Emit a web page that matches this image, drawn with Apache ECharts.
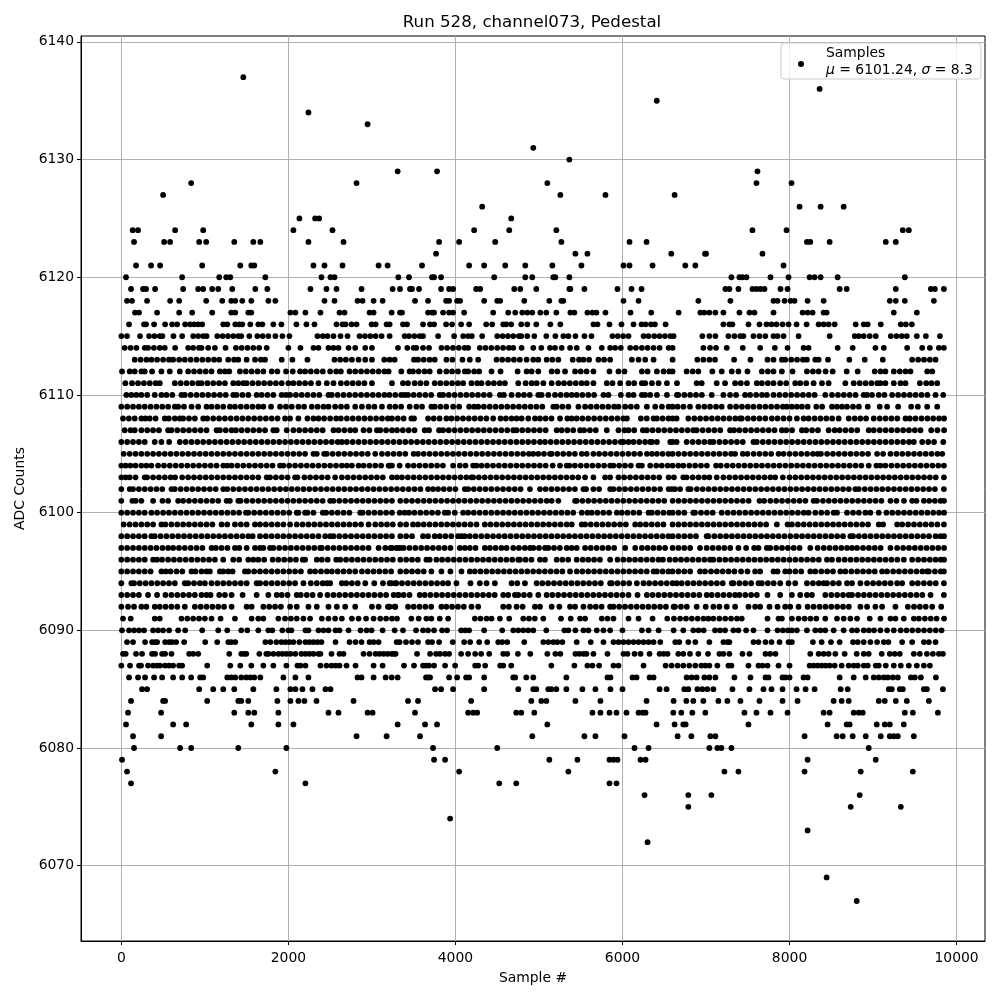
<!DOCTYPE html>
<html><head><meta charset="utf-8"><style>html,body{margin:0;background:#fff}#c{width:1000px;height:1000px}</style>
<script src="https://cdn.jsdelivr.net/npm/echarts@6/dist/echarts.min.js"></script></head><body><div id="c"></div>
<script>
const xTicks=[0,2000,4000,6000,8000,10000];
const yTicks=[6070,6080,6090,6100,6110,6120,6130,6140];
const l6137=[1460];const l6136=[8360];const l6135=[6410];const l6134=[2240];const l6133=[2948];const l6131=[4932];const l6130=[5364];
const l6129=[3308,3780,7616];const l6128=[836,2816,5100,7604,8024];const l6127=[500,5256,5796,6624];const l6126=[4320,8120,8372,8648];const l6125=[2132,2320,2368,4668];
const l6124=[136,200,644,980,2060,2528,4224,4644,5208,7556,7964,9356,9428];
const l6123=[152,512,584,932,1016,1352,1580,1664,2240,2660,3804,4044,4476,5268,6084,6288,8208,8248,8480,9152,9272];
const l6122=[3768,5436,5580,6584,6988,7000,7676];
const l6121=[176,356,464,968,1424,1556,1592,2300,2432,2648,3080,3188,3600,4164,4344,4596,4836,5160,5508,6012,6084,6360,6752,6872,7928];
const l6120=[56,728,1172,1256,1304,1724,2396,2504,2552,3316,3444,3720,3744,3828,4464,4836,4920,5172,5196,5364,7304,7400,7436,7484,7772,7988,8240,8300,8372,8576,9380];
const l6119=[116,260,296,404,740,920,980,1088,1160,1328,1604,1748,2264,2456,2576,2876,3248,3336,3456,3480,3564,3828,3924,3972,4248,4296,4704,4776,4968,5364,5376,5544,5940,6108,6228,7232,7280,7388,7556,7604,7652,7700,7892,7976,8600,8684,9272,9692,9740,9848];
const l6118=[68,128,308,584,692,1016,1208,1316,1364,1448,1556,1760,1844,2432,2552,2828,2888,3020,3128,3516,3672,3888,3924,4020,4056,4344,4500,4536,4824,5124,5268,5292,6012,6192,6908,7292,7808,7856,7940,8012,8060,8216,8408,9200,9272,9380,9728];
const l6117=[164,212,428,692,848,1088,1316,1364,1520,1556,2024,2084,2204,2384,2612,2672,2972,3020,3236,3336,3360,3672,3720,3744,3852,3924,3972,4104,4452,4632,4716,4800,4860,4920,5016,5088,5208,5376,5424,5580,5640,5688,5796,6096,6344,6672,6932,6980,7040,7112,7208,7400,7520,7580,7808,8156,8216,8276,8408,8444,9248,9524];
const l6116=[92,272,296,392,524,608,668,764,824,872,920,968,1220,1268,1364,1412,1448,1544,1640,1688,1820,1916,2096,2216,2312,2576,2648,2684,2756,2816,2996,3044,3176,3212,3372,3420,3612,3696,3744,3888,3960,4068,4164,4368,4440,4572,4608,4668,4788,4860,4968,5136,5256,5652,5700,5844,5988,6132,6228,6276,6340,6388,6516,7208,7280,7316,7508,7640,7724,7784,7844,7916,7988,8084,8204,8348,8408,8468,8540,8792,8888,8936,9092,9332,9392,9464];
const l6115=[0,68,224,332,396,460,492,624,728,860,920,980,1020,1148,1212,1276,1340,1400,1436,1532,1628,1692,1760,1844,1928,2012,2348,2412,2468,2540,2624,2708,2852,2916,2980,3044,3116,3212,3392,3444,3508,3572,3612,3792,3984,4092,4150,4196,4320,4500,4564,4628,4692,4760,4788,4860,4944,5088,5196,5292,5352,5436,5544,5628,5880,5944,6008,6072,6252,6312,6380,6444,6508,6572,6612,6956,7040,7112,7268,7340,7410,7448,7568,7640,7710,7808,7856,7928,8108,8480,8780,8828,8888,8960,9032,9212,9280,9344,9404,9524,9632,9800];
const l6114=[40,110,180,280,320,390,460,520,644,800,860,930,960,1040,1120,1248,1372,1440,1510,1580,1650,1740,2000,2144,2300,2360,2480,2540,2600,2720,2800,2920,3000,3312,3424,3500,3532,3612,3684,3832,3900,3970,4040,4110,4152,4292,4360,4430,4500,4570,4640,4692,4792,4932,5028,5132,5192,5272,5372,5452,5592,5752,5852,5912,5980,6092,6160,6232,6300,6372,6444,6552,6600,6968,7048,7120,7248,7440,7648,7824,7976,8168,8228,8576,8756,9028,9128,9408,9588,9680,9788,9848];
const l6113=[160,230,300,360,428,500,570,620,692,760,830,900,970,1040,1110,1172,1280,1350,1400,1500,1600,1670,1720,1920,2048,2228,2552,2620,2688,2760,2840,2920,3000,3148,3212,3272,3504,3552,3620,3690,3752,3892,3964,4084,4172,4272,4492,4560,4630,4700,4770,4852,4932,4992,5092,5160,5232,5404,5480,5532,5600,5712,5780,5852,6112,6192,6272,6372,6600,6896,6968,7040,7108,7336,7532,7736,7808,7908,7948,8020,8090,8160,8208,8308,8348,8460,8716,8900,9116,9468,9540,9610,9680,9748];
const l6112=[8,100,160,240,280,368,480,580,700,800,870,940,1010,1080,1180,1240,1292,1420,1490,1560,1630,1700,1800,1868,1972,2052,2140,2200,2268,2340,2412,2500,2572,2628,2732,2800,2870,2940,3010,3080,3150,3200,3352,3452,3492,3560,3630,3692,3812,3892,3960,4030,4112,4152,4224,4284,4432,4540,4744,4852,4912,4992,5152,5220,5312,5432,5500,5570,5652,5844,5952,6024,6232,6300,6412,6492,6560,6600,6768,6840,6908,7076,7188,7308,7388,7496,7668,7740,7808,7908,8036,8208,8280,8348,8432,8516,8684,8816,9020,9090,9148,9248,9320,9388,9448,9648,9708];
const l6111=[48,128,200,270,340,410,460,640,710,780,850,920,960,1030,1100,1170,1240,1340,1400,1460,1500,1570,1640,1710,1780,1850,1920,2000,2060,2130,2200,2270,2360,2460,2540,2628,2700,2770,2840,2910,3000,3240,3372,3432,3512,3580,3652,3752,3820,3890,3960,4030,4092,4192,4260,4312,4392,4460,4530,4592,4752,4840,4912,4972,5052,5152,5232,5300,5370,5440,5510,5572,5652,5812,5880,5972,6072,6140,6232,6272,6352,6432,6532,6652,6888,6948,7128,7228,7348,7416,7490,7608,7668,7740,7808,7888,7960,8068,8128,8200,8288,8388,8468,8668,8768,8840,8910,8980,9050,9088,9148,9248,9328,9388,9560,9636,9700,9768];
const l6110=[60,120,180,240,310,400,480,540,610,720,760,830,900,970,1040,1110,1180,1250,1340,1380,1450,1520,1620,1680,1750,1820,1920,1972,2020,2090,2160,2230,2300,2370,2480,2520,2590,2660,2730,2800,2870,2940,3010,3080,3150,3210,3280,3350,3392,3432,3500,3570,3640,3710,3812,3852,3920,3990,4060,4130,4200,4270,4340,4410,4532,4580,4672,4752,4820,4890,4992,5032,5112,5192,5260,5330,5392,5452,5520,5590,5660,5772,5832,5980,6072,6132,6232,6272,6332,6412,6532,6652,6668,6740,6810,6880,6950,7068,7208,7288,7360,7468,7528,7600,7670,7728,7808,7880,7950,8020,8090,8160,8230,8300,8428,8508,8580,8650,8720,8790,8888,8928,8988,9068,9136,9228,9300,9370,9440,9510,9580,9650,9748,9840];
const l6109=[0,70,140,210,280,350,420,490,560,640,680,750,840,920,1020,1080,1150,1220,1300,1360,1430,1500,1570,1640,1700,1792,1900,1970,2040,2120,2188,2280,2350,2420,2480,2560,2630,2700,2800,2880,2960,3030,3120,3212,3280,3350,3452,3532,3600,3712,3752,3820,3890,3972,4044,4164,4224,4272,4340,4410,4480,4550,4620,4690,4760,4830,4900,4970,5040,5172,5212,5280,5352,5472,5552,5620,5690,5760,5830,5900,5952,6032,6100,6172,6292,6392,6472,6552,6600,6660,6730,6808,6908,6980,7048,7120,7188,7288,7360,7430,7500,7568,7640,7710,7780,7850,7920,7968,8028,8088,8148,8216,8320,8390,8508,8568,8628,8688,8760,8830,8936,9080,9168,9300,9456,9536,9648,9768];
const l6108=[20,90,160,240,288,340,410,520,568,640,700,740,810,880,980,1028,1100,1170,1240,1310,1380,1450,1520,1590,1660,1730,1800,1870,1960,2020,2120,2228,2300,2360,2428,2500,2572,2628,2700,2770,2840,2910,2980,3050,3120,3190,3240,3310,3380,3472,3504,3672,3740,3810,3892,3952,4020,4090,4160,4230,4300,4370,4452,4540,4604,4672,4732,4792,4872,4952,5012,5080,5150,5252,5340,5392,5452,5520,5590,5660,5730,5800,5870,5940,6010,6052,6220,6290,6372,6412,6480,6550,6600,6648,6788,6860,6930,7000,7070,7140,7210,7280,7350,7408,7428,7500,7570,7640,7710,7788,7856,7928,8000,8088,8168,8228,8300,8370,8440,8510,8588,8708,8780,8848,8916,9008,9080,9150,9220,9290,9388,9440,9508,9580,9650,9720,9790,9850];
const l6107=[40,110,160,240,310,380,450,560,600,670,740,810,880,950,1020,1140,1180,1250,1320,1372,1440,1510,1580,1650,1720,1820,1860,1980,2060,2130,2200,2270,2340,2410,2540,2600,2670,2740,2800,2900,2970,3060,3100,3170,3240,3300,3370,3440,3510,3632,3684,3804,3852,3920,3990,4060,4130,4200,4270,4340,4410,4480,4550,4620,4692,4732,4800,4870,4940,5010,5080,5212,5272,5340,5410,5492,5540,5610,5680,5812,5952,6024,6072,6140,6244,6292,6360,6430,6500,6570,6640,6710,6780,6848,6888,6960,7030,7100,7170,7288,7336,7400,7470,7540,7610,7680,7750,7820,7908,7960,8030,8148,8200,8270,8340,8468,8540,8600,8670,8740,8810,8948,9008,9080,9150,9220,9290,9360,9430,9500,9568,9696,9770,9850];
const l6106=[0,70,140,210,280,400,480,572,700,770,840,910,980,1050,1120,1190,1260,1330,1400,1470,1540,1610,1680,1750,1820,1890,1960,2030,2100,2170,2240,2310,2380,2450,2520,2590,2640,2700,2770,2840,2910,2980,3050,3120,3190,3260,3330,3400,3470,3540,3610,3680,3750,3820,3890,3960,4030,4100,4170,4240,4310,4380,4450,4520,4590,4660,4730,4800,4870,4940,5012,5072,5140,5210,5280,5350,5420,5490,5560,5630,5700,5770,5840,5910,5980,6012,6072,6132,6200,6270,6332,6352,6412,6572,6600,6648,6768,6840,6910,6980,7048,7088,7160,7230,7300,7370,7440,7568,7608,7680,7750,7820,7890,7960,8030,8100,8170,8240,8310,8380,8450,8520,8590,8660,8730,8800,8870,8940,9010,9080,9150,9220,9290,9360,9430,9488,9588,9660,9730,9840];
const l6105=[28,100,170,240,310,380,450,520,590,660,730,800,870,940,1010,1080,1150,1220,1290,1360,1430,1500,1570,1640,1710,1780,1850,1920,1990,2060,2130,2200,2300,2340,2428,2460,2530,2600,2670,2740,2810,2880,2950,3040,3120,3190,3260,3330,3400,3500,3552,3620,3690,3760,3830,3900,3970,4040,4110,4180,4250,4320,4390,4460,4530,4600,4670,4740,4810,4880,4932,4992,5060,5132,5152,5220,5290,5360,5430,5512,5572,5652,5720,5790,5860,5930,6000,6070,6140,6210,6292,6352,6412,6480,6550,6600,6670,6740,6810,6880,6950,7020,7090,7160,7230,7300,7348,7440,7496,7570,7640,7710,7780,7868,7928,8000,8070,8140,8210,8280,8336,8376,8450,8520,8590,8660,8730,8800,8870,8940,9048,9120,9208,9280,9350,9420,9490,9560,9630,9700,9770,9828];
const l6104=[0,52,108,170,240,300,360,440,510,580,650,720,790,860,930,1000,1070,1140,1220,1268,1320,1390,1460,1530,1600,1670,1740,1810,1900,1940,2010,2080,2150,2220,2290,2360,2430,2500,2570,2640,2700,2760,2840,2900,2970,3040,3110,3200,3240,3332,3212,3432,3500,3570,3640,3710,3780,3850,3972,4052,4120,4212,4252,4312,4380,4450,4520,4590,4660,4730,4800,4870,4940,5010,5080,5164,5252,5332,5364,5430,5500,5570,5640,5710,5780,5852,5892,5960,6030,6100,6192,6232,6332,6404,6470,6540,6600,6668,6728,6800,6870,6940,7010,7120,7176,7250,7320,7390,7460,7530,7600,7670,7740,7810,7880,7950,8020,8090,8160,8230,8300,8370,8440,8510,8580,8650,8720,8790,8860,8948,9040,9088,9148,9220,9290,9360,9430,9500,9570,9640,9710,9780,9848];
const l6103=[0,52,100,170,280,308,380,450,520,590,644,728,800,870,940,1010,1080,1150,1220,1290,1360,1430,1500,1570,1640,1740,1780,1850,1920,1990,2080,2108,2192,2260,2330,2400,2470,2560,2640,2710,2780,2850,2920,2990,3060,3130,3240,3300,3360,3430,3500,3570,3640,3710,3780,3850,3920,3990,4060,4130,4192,4212,4280,4350,4420,4490,4560,4630,4700,4770,4840,4910,4980,5050,5120,5190,5260,5330,5400,5470,5552,5652,5792,5852,5952,6020,6090,6160,6230,6300,6370,6440,6552,6616,6728,6768,6840,6910,6980,7040,7128,7208,7280,7350,7420,7490,7560,7630,7700,7770,7828,7920,8000,8070,8140,8210,8280,8350,8420,8490,8560,8630,8700,8770,8840,8910,8980,9050,9120,9190,9260,9330,9400,9470,9540,9610,9680,9750,9848];
const l6102=[0,100,140,210,280,350,420,490,600,640,710,780,850,920,990,1060,1130,1220,1268,1340,1410,1480,1550,1620,1690,1760,1830,1900,1970,2040,2110,2180,2250,2320,2390,2460,2530,2600,2670,2740,2810,2880,2950,3020,3090,3160,3230,3300,3370,3440,3510,3580,3672,3732,3792,3860,3930,4000,4112,4152,4220,4290,4360,4430,4500,4570,4640,4710,4780,4892,5012,5080,5150,5220,5290,5360,5430,5532,5564,5652,5720,5852,5892,5960,6030,6100,6170,6240,6310,6380,6450,6552,6592,6690,6628,6788,6816,6890,6960,7030,7100,7170,7240,7310,7380,7450,7520,7590,7660,7730,7800,7870,7940,8010,8080,8150,8220,8290,8360,8430,8500,8570,8640,8710,8788,8828,8900,8970,9040,9110,9180,9250,9320,9390,9460,9530,9600,9670,9740,9848];
const l6101=[0,132,172,240,380,492,560,680,740,810,880,950,1020,1090,1160,1260,1300,1400,1428,1500,1570,1640,1710,1780,1850,1920,1990,2060,2130,2200,2270,2340,2410,2500,2540,2610,2680,2750,2820,2890,2960,3030,3100,3170,3240,3340,3410,3480,3550,3620,3690,3760,3830,3900,3970,4040,4110,4180,4250,4320,4390,4460,4530,4600,4670,4740,4810,4880,4950,5020,5092,5152,5232,5432,5452,5520,5590,5660,5730,5800,5870,5940,6010,6080,6150,6220,6290,6360,6430,6500,6600,6670,6740,6810,6880,6950,7020,7090,7160,7230,7300,7370,7440,7510,7640,7696,7770,7840,7910,7980,8050,8120,8190,8288,8328,8400,8470,8540,8610,8680,8750,8820,8890,8960,9030,9100,9208,9280,9370,9468,9520,9608,9672,9740,9808,9850];
const l6100=[0,70,140,210,280,360,428,500,570,640,710,780,850,920,990,1060,1130,1200,1270,1340,1410,1492,1520,1590,1660,1730,1800,1870,1940,2010,2100,2120,2200,2228,2300,2412,2452,2520,2590,2660,2730,2860,2888,2960,3030,3100,3170,3240,3332,3392,3444,3510,3580,3650,3720,3790,3872,3912,3992,4092,4152,4220,4290,4360,4430,4500,4570,4640,4710,4780,4850,4920,4990,5060,5130,5200,5270,5340,5410,5512,5580,5632,5700,5770,5840,5932,5992,6060,6130,6200,6312,6352,6420,6490,6560,6600,6670,6740,6848,6868,6940,7010,7080,7188,7260,7330,7400,7470,7540,7610,7680,7750,7820,7890,7960,8030,8100,8170,8228,8308,8380,8450,8528,8568,8688,8760,8830,8908,8968,9068,9160,9230,9300,9370,9440,9510,9580,9650,9720,9790,9850];
const l6099=[28,100,170,240,310,380,480,528,600,670,740,810,880,950,1020,1090,1200,1268,1360,1430,1500,1600,1660,1730,1800,1870,1940,2020,2100,2170,2240,2310,2380,2450,2520,2590,2660,2730,2800,2870,2960,3040,3110,3180,3250,3340,3410,3492,3552,3620,3690,3760,3830,3900,3970,4040,4110,4180,4252,4352,4420,4490,4560,4630,4700,4770,4840,4910,4980,5050,5120,5190,5260,5332,5392,5512,5552,5620,5690,5760,5830,5900,5970,6040,6152,6212,6280,6350,6420,6490,6600,6670,6740,6810,6880,6950,7020,7090,7160,7230,7300,7370,7440,7510,7580,7650,7720,7848,7976,8028,8100,8170,8240,8310,8380,8450,8520,8590,8660,8730,8800,8870,8940,9068,9120,9288,9348,9420,9490,9560,9630,9700,9770,9848];
const l6098=[0,70,140,210,280,360,400,470,540,610,680,750,820,890,960,1030,1100,1170,1240,1310,1380,1450,1520,1572,1660,1730,1800,1870,1940,2010,2080,2150,2220,2290,2360,2440,2500,2540,2610,2680,2750,2820,2890,2960,3030,3100,3170,3240,3340,3410,3480,3612,3672,3752,3812,3880,3950,4032,4072,4112,4172,4240,4310,4380,4450,4520,4590,4660,4730,4800,4870,4940,5010,5080,5150,5220,5290,5360,5430,5500,5570,5640,5710,5780,5850,5920,5990,6060,6130,6200,6270,6340,6410,6480,6550,6600,6670,6740,6810,6880,7008,7028,7100,7170,7240,7310,7380,7450,7520,7590,7660,7730,7800,7870,7940,8010,8080,8150,8220,8290,8360,8430,8500,8570,8640,8728,8760,8830,8900,8970,9040,9110,9180,9250,9320,9390,9460,9530,9600,9670,9748,9808,9850];
const l6097=[0,70,140,210,280,350,420,492,560,620,690,760,830,900,970,1080,1132,1200,1270,1360,1412,1500,1600,1660,1700,1780,1820,1890,1960,2030,2100,2170,2240,2310,2380,2400,2470,2540,2610,2680,2750,2820,2890,2960,3080,3160,3240,3340,3224,3292,3312,3380,3450,3520,3590,3660,3730,3800,3870,3940,4052,4112,4172,4240,4352,4412,4480,4550,4612,4692,4760,4830,4892,4932,5000,5072,5112,5180,5250,5332,5392,5452,5552,5620,5690,5760,5830,5900,6032,6152,6232,6300,6370,6440,6510,6600,6670,6740,6810,6928,7008,7080,7150,7220,7290,7388,7480,7576,7628,7728,7768,7840,7910,7980,8050,8120,8248,8336,8410,8480,8550,8620,8688,8748,8808,8880,8950,9020,9090,9208,9288,9360,9430,9500,9570,9640,9710,9780,9850];
const l6096=[0,70,140,210,280,380,428,488,560,630,700,770,840,910,980,1050,1120,1220,1340,1410,1520,1580,1640,1710,1812,1880,1950,2020,2090,2172,2200,2340,2400,2470,2572,2620,2690,2760,2830,2900,2970,3040,3110,3180,3250,3340,3410,3480,3550,3652,3692,3772,3840,3910,3980,4050,4120,4190,4260,4330,4400,4470,4540,4610,4680,4752,4772,4840,4910,5012,5072,5212,5280,5350,5452,5524,5590,5660,5730,5852,5940,6010,6080,6150,6220,6290,6360,6432,6484,6564,6632,6700,6770,6840,6910,6980,7048,7088,7160,7230,7300,7370,7440,7510,7580,7650,7720,7790,7860,7930,8000,8070,8140,8210,8280,8350,8448,8508,8588,8660,8730,8800,8870,8940,9010,9080,9150,9220,9290,9368,9468,9540,9610,9680,9748,9810,9850];
const l6095=[0,70,140,210,280,350,480,532,588,660,730,840,888,960,1020,1060,1180,1220,1280,1332,1480,1520,1590,1660,1730,1800,1870,1940,2010,2080,2150,2260,2320,2390,2460,2520,2590,2660,2730,2800,2880,2950,3020,3090,3160,3230,3340,3410,3480,3550,3620,3712,3832,3940,4072,4172,4232,4300,4370,4440,4510,4580,4650,4720,4790,4860,4930,5000,5070,5140,5210,5280,5372,5452,5520,5590,5660,5730,5800,5870,5940,6010,6080,6150,6220,6290,6372,6412,6480,6550,6600,6670,6740,6810,6928,6988,7060,7130,7200,7270,7340,7420,7496,7588,7648,7808,7856,7948,8000,8070,8140,8248,8308,8380,8450,8520,8608,8668,8740,8810,8880,8950,9020,9108,9168,9240,9310,9380,9450,9520,9590,9648,9668,9740,9810,9848];
const l6094=[0,120,152,220,290,360,430,500,570,640,760,800,870,940,1000,1080,1150,1220,1290,1360,1430,1500,1620,1660,1730,1800,1870,1940,2010,2080,2180,2268,2340,2410,2460,2500,2640,2692,2760,2830,2920,3028,3132,3212,3280,3232,3292,3360,3430,3500,3570,3640,3710,3780,3850,3912,4012,4180,4292,4372,4472,4672,4740,4832,4972,5040,5110,5180,5250,5320,5390,5460,5530,5600,5670,5740,5852,5872,5940,6010,6080,6172,6252,6320,6390,6460,6530,6600,6648,6708,6780,6850,6920,6990,7060,7130,7200,7308,7328,7400,7470,7540,7628,7668,7740,7810,7888,7988,8068,8208,8280,8350,8408,8448,8520,8590,8688,8748,8848,8928,9000,9070,9140,9210,9288,9348,9468,9536,9608,9680,9750,9848];
const l6093=[0,70,140,210,320,428,528,600,670,740,810,880,960,1020,1068,1172,1240,1320,1452,1620,1760,1860,1920,1990,2100,2148,2220,2290,2380,2468,2540,2610,2680,2750,2820,2890,2960,3030,3100,3170,3260,3320,3312,3380,3450,3572,3632,3700,3770,3840,3910,3980,4050,4120,4190,4260,4330,4400,4470,4572,4632,4712,4752,4820,4890,4992,5092,5160,5230,5300,5370,5440,5510,5580,5650,5720,5790,5860,5930,6000,6072,6180,6292,6360,6430,6500,6570,6640,6710,6780,6850,6920,7008,7068,7140,7210,7280,7348,7400,7470,7540,7608,7736,7888,8028,8128,8208,8268,8428,8500,8570,8640,8708,8748,8820,8890,8960,9030,9100,9170,9240,9310,9380,9450,9520,9590,9688,9848];
const l6092=[0,80,152,240,300,400,460,530,600,670,760,880,950,1020,1090,1160,1230,1320,1500,1560,1700,1770,1840,1910,2020,2100,2240,2340,2480,2580,2680,2800,3000,3080,3212,3280,3192,3272,3432,3500,3570,3640,3710,3832,3892,3960,4030,4100,4192,4272,4572,4640,4732,4804,4952,5012,5152,5244,5372,5432,5532,5612,5680,5750,5852,5892,5960,6030,6100,6170,6240,6310,6380,6450,6520,6612,6628,6700,6770,6888,6996,7088,7160,7248,7348,7508,7588,7648,7760,7856,7948,8008,8108,8216,8288,8360,8430,8500,8570,8640,8710,8848,8928,9028,9108,9268,9416,9490,9560,9630,9708,9816];
const l6091=[20,112,400,460,720,790,860,930,1000,1080,1188,1360,1560,1640,1700,1880,1960,2030,2100,2180,2260,2400,2480,2560,2640,2760,2840,2930,3020,3100,3170,3240,3300,3472,3560,3652,3712,3812,3912,4232,4300,4372,4432,4532,4644,4812,4880,4950,5052,5264,5380,5492,5552,5752,5820,5892,6072,6192,6360,6536,6616,6690,6760,6830,6900,6970,7028,7088,7160,7230,7300,7370,7428,7736,7868,7908,8028,8108,8180,8250,8320,8428,8568,8648,8728,8808,8960,9088,9208,9268,9368,9488,9548,9620,9690,9760,9850];
const l6090=[8,92,152,212,272,380,440,500,572,680,764,968,1160,1268,1436,1508,1640,1760,1808,1928,2000,2036,2204,2240,2360,2420,2480,2564,2612,2720,2864,2936,2996,3128,3272,3372,3528,3612,3672,3744,3840,3900,4068,4116,4164,4344,4560,4692,4752,4812,4872,4932,5088,5304,5352,5436,5532,5592,5692,5772,5852,6000,6232,6312,6432,6612,6728,6848,6910,6972,7108,7168,7228,7328,7388,7480,7568,7736,7856,7920,7980,8028,8088,8208,8308,8370,8428,8528,8648,8748,8808,8888,8950,9012,9088,9168,9248,9330,9400,9470,9540,9610,9680,9750,9820];
const l6089=[68,140,284,368,404,428,524,572,608,656,752,1004,1148,1280,1316,1364,1724,1784,1856,1916,1964,2012,2060,2132,2204,2252,2300,2348,2396,2564,2732,2804,2876,2972,3020,3080,3296,3332,3408,3480,3552,3672,3720,3804,3968,4104,4176,4284,4380,4512,4560,4620,4824,5052,5112,5172,5220,5280,5452,5620,5772,5892,5952,6012,6072,6132,6192,6252,6312,6372,6452,6632,6680,6788,6872,7040,7208,7256,7280,7568,7628,7712,7784,7880,7988,8028,8280,8384,8496,8600,8760,8816,8888,8968,9048,9128,9184,9348,9468,9608,9668,9748];
const l6088=[20,52,176,248,368,404,488,524,600,812,860,920,1292,1436,1472,1496,1652,1736,1760,1820,1880,1928,1976,2024,2084,2156,2204,2252,2300,2360,2384,2516,2612,2660,2900,2972,3044,3092,3140,3188,3236,3284,3264,3540,3696,3768,3816,3876,3924,4068,4152,4236,4308,4404,4572,4620,4748,4896,5100,5196,5256,5436,5484,5532,5568,5652,5820,6012,6060,6144,6216,6324,6444,6492,6540,6668,6728,6808,6908,7024,7160,7208,7280,7436,7520,7712,7768,7832,8248,8348,8408,8468,8548,8660,8804,8888,8948,9104,9200,9260,9320,9488,9560,9644,9716,9788,9836];
const l6087=[0,104,212,236,320,380,428,464,524,572,620,692,728,1028,1304,1424,1556,1700,1820,1976,2108,2144,2204,2384,2456,2516,2564,2612,2696,2804,3020,3128,3384,3504,3612,3648,3684,3744,3876,3996,4236,4272,4356,4536,4572,4668,5148,5424,5580,5640,5720,5892,5952,6252,6516,6588,6660,6728,6800,6872,6944,6992,7040,7136,7268,7304,7508,7628,7676,7736,7868,8000,8240,8288,8336,8384,8432,8480,8540,8624,8708,8768,8816,8888,8936,9032,9068,9152,9248,9332,9428,9524,9608,9680];
const l6086=[92,200,284,392,488,620,728,836,944,980,1268,1316,1364,1436,1496,1544,1592,1664,1940,2084,2240,2828,2876,3020,3164,3236,3308,3648,3672,3696,3924,4020,4128,4164,4344,4692,4716,4848,4932,5328,5820,5856,6120,6168,6324,6372,6768,6828,6888,6980,7040,7112,7340,7532,7712,7748,7916,7952,8000,8168,8216,8600,8768,8912,9008,9068,9128,9176,9236,9296,9452,9500,9572,9752];
const l6085=[248,308,932,1100,1220,1352,1580,1856,2024,2084,2168,2288,2444,2504,3756,3828,3972,4344,4752,4932,4968,5112,5148,5208,5328,5520,5676,5856,6000,6444,6528,6740,6788,6896,6956,7016,7088,7316,7520,7688,7784,7916,8084,8192,8300,8612,8696,9188,9224,9320,9356,9608,9644,9836];
const l6084=[116,500,524,1028,1400,1436,1520,1868,2024,2120,2192,2336,2780,3432,3552,4188,4908,5028,5088,5436,5736,6288,6612,6764,6848,6968,7148,7256,7412,7640,7916,8096,8528,8624,8708,9068,9140,9272,9404,9668];
const l6083=[80,476,1352,1520,1592,1880,2480,2600,2948,3008,3516,4152,4212,4260,4728,4788,4944,5640,5736,5844,5928,6048,6192,6240,6276,6608,6704,6836,6992,7460,7604,7772,7976,8408,8480,8768,8828,8876,9380,9476,9776];
const l6082=[56,620,776,1556,1880,2060,3308,3636,3780,5100,6408,6624,6728,6756,7508,8456,8684,8720,9044,9140,9200,9368];
const l6081=[140,476,2816,3176,3576,4920,5544,5676,6024,6660,6824,7052,7112,8180,8564,8636,8756,8912,9092,9200,9248,9296,9488];
const l6080=[152,704,836,1400,1976,3732,4500,6144,6312,7040,7136,7184,7304,8948];
const l6079=[8,3744,3876,5124,5460,5844,5892,5940,6216,6276,8216,9032];
const l6078=[68,1844,4044,5352,7220,7388,8180,8852,9476];
const l6077=[116,2204,4524,4728,5844,5928];
const l6076=[6264,6788,7064,8840];const l6075=[6788,8732,9332];const l6074=[3936];const l6073=[8216];const l6072=[6300];const l6069=[8444];const l6067=[8804];
const rows=[[6137,l6137],[6136,l6136],[6135,l6135],[6134,l6134],[6133,l6133],[6131,l6131],[6130,l6130],[6129,l6129],[6128,l6128],[6127,l6127],[6126,l6126],[6125,l6125],[6124,l6124],[6123,l6123],[6122,l6122],[6121,l6121],[6120,l6120],[6119,l6119],[6118,l6118],[6117,l6117],[6116,l6116],[6115,l6115],[6114,l6114],[6113,l6113],[6112,l6112],[6111,l6111],[6110,l6110],[6109,l6109],[6108,l6108],[6107,l6107],[6106,l6106],[6105,l6105],[6104,l6104],[6103,l6103],[6102,l6102],[6101,l6101],[6100,l6100],[6099,l6099],[6098,l6098],[6097,l6097],[6096,l6096],[6095,l6095],[6094,l6094],[6093,l6093],[6092,l6092],[6091,l6091],[6090,l6090],[6089,l6089],[6088,l6088],[6087,l6087],[6086,l6086],[6085,l6085],[6084,l6084],[6083,l6083],[6082,l6082],[6081,l6081],[6080,l6080],[6079,l6079],[6078,l6078],[6077,l6077],[6076,l6076],[6075,l6075],[6074,l6074],[6073,l6073],[6072,l6072],[6069,l6069],[6067,l6067]];
const pts=[];rows.forEach(([y,xs])=>xs.forEach(x=>pts.push([x,y])));
const font='"DejaVu Sans"';
const mkAxis=(ticks,margin,pad,extra)=>Object.assign({type:'value',axisLine:{show:true,onZero:false,lineStyle:{color:'#000',width:1}},
axisTick:{show:true,length:4,customValues:ticks,lineStyle:{color:'#000',width:1}},
axisLabel:{customValues:ticks,color:'#000',fontFamily:font,fontSize:13.9,margin:margin,padding:pad,hideOverlap:false,formatter:v=>String(v)},
splitLine:{show:true,lineStyle:{color:'#b0b0b0',width:1}},nameLocation:'middle',nameTextStyle:{color:'#000',fontFamily:font,fontSize:13.9}},extra);
const c=echarts.init(document.getElementById('c'),null,{renderer:'canvas'});
c.setOption({animation:false,
title:{text:'Run 528, channel073, Pedestal',left:527,top:9,textAlign:'center',textStyle:{fontFamily:font,fontSize:16.67,fontWeight:'normal',color:'#000'}},
grid:{left:81,right:15,top:36,bottom:59,show:true,borderColor:'#000',borderWidth:1,backgroundColor:'transparent'},
xAxis:mkAxis(xTicks,10,[0,0,0,0],{min:-483,max:10340,name:'Sample #',nameGap:30}),
yAxis:mkAxis(yTicks,7,[2,0,0,0],{min:6063.6,max:6140.5,name:'ADC Counts',nameGap:51,nameRotate:90}),
legend:{show:true,left:781,top:43,orient:'vertical',padding:[3,8,2,17],itemWidth:30,itemHeight:6,icon:'circle',backgroundColor:'rgba(255,255,255,0.8)',borderColor:'#cccccc',borderWidth:1,borderRadius:3,
data:['Samples'],formatter:()=>'{a|Samples}\n{i|μ}{a| = 6101.24, }{i|σ}{a| = 8.3}',
textStyle:{rich:{a:{fontFamily:font,fontSize:13.9,color:'#000',lineHeight:17},i:{fontFamily:font,fontStyle:'italic',fontSize:13.9,color:'#000',lineHeight:17}},padding:[0,0,5,5]}},
series:[{name:'Samples',type:'scatter',symbol:'circle',symbolSize:5.8,itemStyle:{color:'#000',opacity:1},large:false,clip:true,data:pts,animation:false}]});
</script></body></html>
